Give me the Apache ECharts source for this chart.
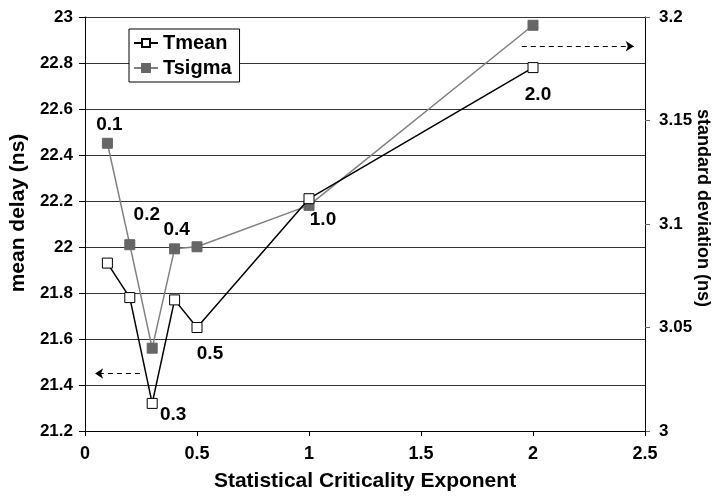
<!DOCTYPE html>
<html>
<head>
<meta charset="utf-8">
<script src="https://cdn.jsdelivr.net/npm/echarts@6/dist/echarts.min.js"></script>
<style>html,body{margin:0;padding:0;background:#fff}#c{width:720px;height:498px}</style>
</head>
<body>
<div id="c"></div>
<script>
// ---- data ----
var exponents = [0.1, 0.2, 0.3, 0.4, 0.5, 1.0, 2.0];
var tmean = [21.93, 21.78, 21.32, 21.77, 21.65, 22.21, 22.78];
var tsigma = [3.139, 3.090, 3.040, 3.088, 3.089, 3.109, 3.196];
var pointLabels = ['0.1', '0.2', '0.3', '0.4', '0.5', '1.0', '2.0'];
var xTicks = [0, 0.5, 1, 1.5, 2, 2.5];
var leftTicks = [21.2, 23, 0.2];
var rightTicks = [3, 3.2, 0.05];
// arrow annotations (data space): [x0, x1, y]
var leftArrow = [0.245, 0.045, 21.45];
var rightArrow = [1.95, 2.45, 22.873];

// ---- label placement (style) ----
var labelPlace = {
  0: {s: 'sigma', off: [2, -19]},
  1: {s: 'sigma', off: [17, -30]},
  2: {s: 'mean', off: [21, 11]},
  3: {s: 'sigma', off: [2, -19]},
  4: {s: 'mean', off: [13, 26]},
  5: {s: 'sigma', off: [14, 14]},
  6: {s: 'mean', off: [5, 27]}
};
var labelFont = {fontFamily: 'Liberation Sans', fontWeight: 'bold', fontSize: 19, color: '#000'};

function buildData(vals, key) {
  return exponents.map(function (x, i) {
    var d = {value: [x, vals[i]]};
    var p = labelPlace[i];
    if (p && p.s === key) {
      d.label = Object.assign({
        show: true, position: 'inside', offset: p.off,
        formatter: pointLabels[i], align: 'center', verticalAlign: 'middle'
      }, labelFont);
    }
    return d;
  });
}

var axisFont = {fontFamily: 'Liberation Sans', fontWeight: 'bold', fontSize: 17, color: '#000'};

var chart = echarts.init(document.getElementById('c'), null, {renderer: 'canvas'});
chart.setOption({
  animation: false,
  backgroundColor: '#fff',
  grid: {left: 85, right: 75, top: 17, bottom: 67, containLabel: false, outerBoundsMode: 'none'},
  legend: {
    show: true, orient: 'vertical', left: 129, top: 29,
    backgroundColor: '#fff', borderColor: '#000', borderWidth: 1,
    padding: [4, 8, 4, 4], itemGap: 5, itemWidth: 24, itemHeight: 10,
    textStyle: {fontFamily: 'Liberation Sans', fontWeight: 'bold', fontSize: 20, color: '#000'},
    data: ['Tmean', 'Tsigma']
  },
  xAxis: {
    type: 'value', min: xTicks[0], max: xTicks[xTicks.length - 1], interval: 0.5,
    name: 'Statistical Criticality Exponent', nameLocation: 'middle', nameGap: 40,
    nameTextStyle: {fontFamily: 'Liberation Sans', fontWeight: 'bold', fontSize: 21, color: '#000'},
    axisLine: {show: true, onZero: false, lineStyle: {color: '#000', width: 1}},
    axisTick: {show: true, length: 5, lineStyle: {color: '#000'}},
    axisLabel: Object.assign({margin: 14}, axisFont, {fontSize: 18}),
    splitLine: {show: false}
  },
  yAxis: [{
    type: 'value', min: leftTicks[0], max: leftTicks[1], interval: leftTicks[2],
    name: 'mean delay (ns)', nameLocation: 'middle', nameGap: 54, nameRotate: 90,
    nameTextStyle: {fontFamily: 'Liberation Sans', fontWeight: 'bold', fontSize: 21, color: '#000', padding: [0, 0, 0, 22]},
    axisLine: {show: true, lineStyle: {color: '#000', width: 1}},
    axisTick: {show: true, length: 6, lineStyle: {color: '#000'}},
    axisLabel: Object.assign({margin: 12, formatter: function (v) { return String(+v.toFixed(1)); }}, axisFont),
    splitLine: {show: true, lineStyle: {color: '#333', width: 1}}
  }, {
    type: 'value', min: rightTicks[0], max: rightTicks[1], interval: rightTicks[2],
    name: 'standard deviation (ns)', nameLocation: 'middle', nameGap: 49, nameRotate: -90,
    nameMoveOverlap: false,
    nameTextStyle: {fontFamily: 'Liberation Sans', fontWeight: 'bold', fontSize: 18, color: '#000', padding: [0, 32, 0, 0]},
    position: 'right',
    axisLine: {show: true, lineStyle: {color: '#000', width: 1}},
    axisTick: {show: true, length: 5, lineStyle: {color: '#666'}},
    axisLabel: Object.assign({margin: 14, formatter: function (v) { return String(+v.toFixed(2)); }}, axisFont),
    splitLine: {show: false}
  }],
  series: [{
    name: 'Tmean', type: 'line', yAxisIndex: 0,
    data: buildData(tmean, 'mean'),
    symbol: 'rect', symbolSize: 10, showAllSymbol: true,
    lineStyle: {color: '#000', width: 1.5},
    itemStyle: {color: '#fff', borderColor: '#000', borderWidth: 1},
    z: 3,
    markLine: {
      silent: true, symbol: ['none', 'arrow'], symbolSize: [8, 8],
      lineStyle: {color: '#000', type: [5, 4], width: 1},
      label: {show: false},
      data: [
        [{coord: [leftArrow[0], leftArrow[2]]}, {coord: [leftArrow[1], leftArrow[2]]}],
        [{coord: [rightArrow[0], rightArrow[2]]}, {coord: [rightArrow[1], rightArrow[2]]}]
      ]
    }
  }, {
    name: 'Tsigma', type: 'line', yAxisIndex: 1,
    data: buildData(tsigma, 'sigma'),
    symbol: 'rect', symbolSize: 10, showAllSymbol: true,
    lineStyle: {color: '#808080', width: 1.5},
    itemStyle: {color: '#666', borderColor: '#666', borderWidth: 1},
    z: 2
  }]
});
</script>
</body>
</html>
